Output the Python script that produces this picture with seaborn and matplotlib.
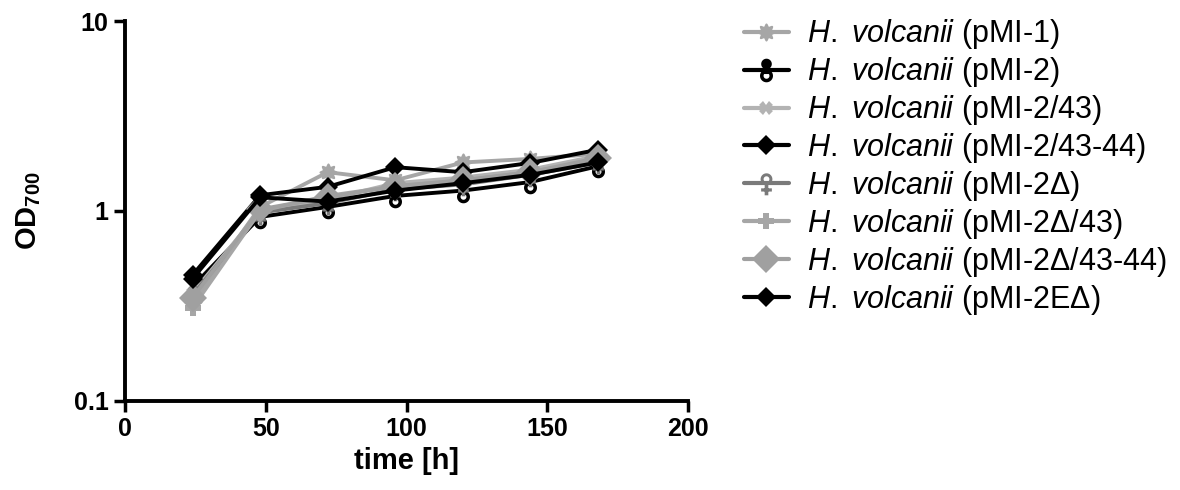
import numpy as np
import pandas as pd
import matplotlib
matplotlib.use("Agg")
import matplotlib.pyplot as plt
from matplotlib.path import Path
import seaborn as sns

time_h = [24, 48, 72, 96, 120, 144, 168]
strains = ["pMI-1", "pMI-2", "pMI-2/43", "pMI-2/43-44",
           "pMI-2Δ", "pMI-2Δ/43", "pMI-2Δ/43-44", "pMI-2EΔ"]
od_pMI1 = [0.33, 1.05, 1.60, 1.45, 1.80, 1.88, 2.00]
od_pMI2 = [0.40, 0.93, 1.05, 1.20, 1.28, 1.42, 1.72]
od_pMI2_43 = [0.37, 1.00, 1.15, 1.40, 1.50, 1.65, 1.95]
od_pMI2_43_44 = [0.46, 1.21, 1.34, 1.70, 1.60, 1.79, 2.10]
od_pMI2d = [0.36, 0.98, 1.10, 1.30, 1.38, 1.55, 1.80]
od_pMI2d_43 = [0.31, 1.00, 1.20, 1.35, 1.45, 1.60, 1.85]
od_pMI2d_43_44 = [0.35, 1.02, 1.18, 1.35, 1.45, 1.60, 1.90]
od_pMI2Ed = [0.44, 1.18, 1.12, 1.28, 1.40, 1.55, 1.80]
series = [od_pMI1, od_pMI2, od_pMI2_43, od_pMI2_43_44,
          od_pMI2d, od_pMI2d_43, od_pMI2d_43_44, od_pMI2Ed]

labels = [f"$\\mathit{{H.}}$ $\\mathit{{volcanii}}$ ({s})" for s in strains]
rows = []
for lab, vals in zip(labels, series):
    for t, v in zip(time_h, vals):
        rows.append({"time": t, "od": v, "strain": lab})
df = pd.DataFrame(rows)


# ---- custom marker shapes ----
def circle(cx, cy, r, n=40, reverse=False):
    th = np.linspace(0, 2 * np.pi, n)
    if reverse:
        th = th[::-1]
    return np.column_stack([cx + r * np.cos(th), cy + r * np.sin(th)])


def rect(x0, y0, x1, y1):
    return np.array([[x0, y0], [x1, y0], [x1, y1], [x0, y1], [x0, y0]])


def make_path(polys):
    verts, codes = [], []
    for p in polys:
        verts.extend(p.tolist())
        codes.extend([Path.MOVETO] + [Path.LINETO] * (len(p) - 2) + [Path.CLOSEPOLY])
    return Path(verts, codes)


th = np.linspace(0, 2 * np.pi, 160)
rr = 1 + 0.18 * np.cos(8 * th)
flower = make_path([np.column_stack([rr * np.cos(th), rr * np.sin(th)])])
ring_bottom = make_path([circle(0, 0.55, 0.45), rect(-0.2, -0.3, 0.2, 0.6),
                         circle(0, -0.45, 0.55), circle(0, -0.45, 0.25, reverse=True)])
venus = make_path([circle(0, 0.4, 0.55), circle(0, 0.4, 0.27, reverse=True),
                   rect(-0.17, -1.1, 0.17, -0.1), rect(-0.5, -0.75, 0.5, -0.45)])

sns.set_style("ticks")
plt.rcParams["font.family"] = ["Liberation Sans", "DejaVu Sans"]
plt.rcParams["mathtext.fontset"] = "custom"
plt.rcParams["mathtext.it"] = "Liberation Sans:italic"
plt.rcParams["mathtext.rm"] = "Liberation Sans"
plt.rcParams["mathtext.bf"] = "Liberation Sans:bold"
for k in ["text.color", "axes.labelcolor", "xtick.color", "ytick.color", "axes.edgecolor"]:
    plt.rcParams[k] = "black"

colors = ["#a6a6a6", "#000000", "#b3b3b3", "#000000",
          "#7a7a7a", "#a6a6a6", "#a0a0a0", "#000000"]
markers = [flower, ring_bottom, "X", "D", venus, "P", "D", "D"]
sizes = [13, 17, 10, 10.5, 17, 11, 14, 10.5]
palette = dict(zip(labels, colors))
mdict = dict(zip(labels, markers))

fig = plt.figure(figsize=(11.8, 4.9), dpi=100)
ax = fig.add_axes([0.106, 0.182, 0.477, 0.775])

sns.lineplot(data=df, x="time", y="od", hue="strain", style="strain",
             palette=palette, markers=mdict, dashes=False, linewidth=2.8,
             markersize=10, markeredgewidth=0, ax=ax, legend="full")

for line, ms in zip(ax.lines, sizes):
    line.set_markersize(ms)

ax.set_yscale("log")
ax.set_ylim(0.1, 10)
ax.set_xlim(0, 200)
ax.set_xticks([0, 50, 100, 150, 200])
ax.set_yticks([0.1, 1, 10])
ax.set_yticklabels(["0.1", "1", "10"])
ax.yaxis.set_minor_locator(matplotlib.ticker.NullLocator())
ax.tick_params(width=2.5, length=8, direction="out", labelsize=18, pad=4, colors="black")
for lab in ax.get_xticklabels() + ax.get_yticklabels():
    lab.set_fontweight("bold")
for s in ["left", "bottom"]:
    ax.spines[s].set_linewidth(2.8)
sns.despine(ax=ax)
ax.set_xlabel("time [h]", fontsize=21, fontweight="bold", labelpad=4)
ax.set_ylabel(r"OD$_{\mathbf{700}}$", fontsize=21, fontweight="bold", labelpad=22)

handles, hlabels = ax.get_legend_handles_labels()
for h, ms in zip(handles, sizes):
    h.set_linewidth(3)
    h.set_markersize(ms)
ax.legend(handles, hlabels, loc="upper left", bbox_to_anchor=(1.10, 1.01),
          frameon=False, fontsize=22, labelspacing=0.13, handlelength=1.45,
          handletextpad=0.6, borderaxespad=0, borderpad=0)

fig.savefig("out.png", dpi=100)
